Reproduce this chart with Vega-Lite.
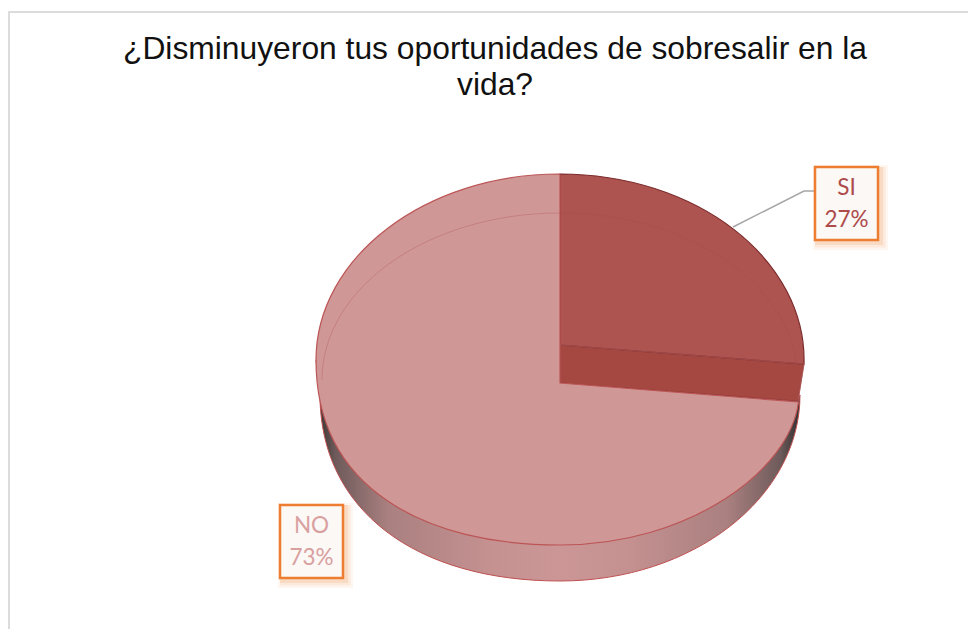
{
"$schema":"https://vega.github.io/schema/vega-lite/v6.json",
"width":968,"height":629,"padding":0,"autosize":{"type":"none"},
"background":"white",
"config":{"view":{"stroke":null}},
"title":{"text":["¿Disminuyeron tus oportunidades de sobresalir en la","vida?"],"font":"Liberation Sans","fontSize":31.8,"fontWeight":"normal","color":"#111111","anchor":"middle","frame":"group","baseline":"alphabetic","offset":0,"dx":11,"dy":127,"lineHeight":36},
"data":{"values":[{"respuesta":"NO","porcentaje":0.73},{"respuesta":"SI","porcentaje":0.27}]},
"layer":[
{"transform":[{"filter":"datum.respuesta === 'NO'"}],
 "mark":{"type":"point","filled":false,"size":4,"opacity":1,"shape":"M-475,314.5 L-475,-302.5 L484,-302.5","stroke":"#DCDCDC","strokeWidth":2,"fill":null},"encoding":{}},
{"transform":[{"filter":"datum.respuesta === 'NO'"}],
 "mark":{"type":"point","filled":true,"size":4,"opacity":1,"shape":"M-164,80.5 C-164,195.8 -68,266.5 76,266.5 A240,186 0 0 0 316,80.5 L314,86.5 L76,68.5 L-168,45.5 Z","stroke":"#C05050","strokeWidth":1,
 "fill":{"gradient":"linear","x1":0,"y1":0,"x2":1,"y2":0,"stops":[{"offset":0,"color":"#2e2e2e"},{"offset":0.04,"color":"#6e5a5a"},{"offset":0.15,"color":"#aa8080"},{"offset":0.35,"color":"#c49090"},{"offset":0.5,"color":"#cc9696"},{"offset":0.65,"color":"#c49090"},{"offset":0.85,"color":"#aa8080"},{"offset":0.96,"color":"#6e5a5a"},{"offset":1,"color":"#2e2e2e"}]}},"encoding":{}},
{"transform":[{"filter":"datum.respuesta === 'SI'"}],
 "mark":{"type":"point","filled":true,"size":4,"opacity":1,"shape":"M76,30.5 L320,49.5 L314,86.5 L76,68.5 Z","fill":"#A64842","stroke":"#8a3a36","strokeWidth":0.8},"encoding":{}},
{"mark":{"type":"point","filled":true,"size":4,"opacity":1,"strokeWidth":1.2},
 "encoding":{
  "shape":{"field":"respuesta","type":"nominal","legend":null,"scale":{"domain":["SI","NO"],"range":["M76,30.5 L76,-140.5 A244,186 0 0 1 320,49.5 Z","M76,68.5 L76,-140.5 A244,186 0 0 0 -168,45.5 C-168,175 -58,230.5 76,230.5 C206,230.5 306,155.5 314.5,87.5 Z"]}},
  "fill":{"field":"respuesta","type":"nominal","legend":null,"scale":{"domain":["SI","NO"],"range":["#AD5350","#D09797"]}},
  "stroke":{"field":"respuesta","type":"nominal","legend":null,"scale":{"domain":["SI","NO"],"range":["#7B2B2B","#BC5555"]}},
  "order":{"field":"respuesta","sort":"descending"}
 }},
{"transform":[{"filter":"datum.respuesta === 'SI'"}],
 "mark":{"type":"point","filled":false,"size":4,"opacity":1,"shape":"M76,30.5 L320,49.5 L314,86.5","stroke":"#B86060","strokeWidth":0.6,"fill":null},"encoding":{}},
{"transform":[{"filter":"datum.respuesta === 'NO'"}],
 "mark":{"type":"point","filled":false,"size":4,"opacity":0.3,"shape":"M-162,65.5 A238,167 0 0 1 76,-101.5 A238,167 0 0 1 314,65.5","stroke":"#A84848","strokeWidth":1,"fill":null},"encoding":{}},
{"transform":[{"filter":"datum.respuesta === 'SI'"}],
 "mark":{"type":"point","filled":false,"size":4,"opacity":1,"shape":"M249,-87.5 L320,-123.5 L331,-123.5","stroke":"#A6A6A6","strokeWidth":1.5,"fill":null},"encoding":{}},
{"mark":{"type":"point","filled":true,"size":4,"opacity":0.07,"fill":"#ED7D31","shape":"M-33.5,-38.5 H41.5 V46.5 H-33.5 Z"},
 "encoding":{"x":{"field":"respuesta","type":"nominal","axis":null,"scale":{"domain":["NO","SI"],"range":[311.5,846.5],"padding":0}},"y":{"field":"respuesta","type":"nominal","axis":null,"scale":{"domain":["NO","SI"],"range":[541.5,203.5],"padding":0}}}},
{"mark":{"type":"point","filled":true,"size":4,"opacity":0.1,"fill":"#ED7D31","shape":"M-31.5,-36.5 H39 V44 H-31.5 Z"},
 "encoding":{"x":{"field":"respuesta","type":"nominal","axis":null},"y":{"field":"respuesta","type":"nominal","axis":null}}},
{"mark":{"type":"point","filled":true,"size":4,"opacity":0.14,"fill":"#ED7D31","shape":"M-31.5,-36.5 H36.5 V41.5 H-31.5 Z"},
 "encoding":{"x":{"field":"respuesta","type":"nominal","axis":null},"y":{"field":"respuesta","type":"nominal","axis":null}}},
{"mark":{"type":"point","filled":true,"size":4,"opacity":1,"fill":"#FBF8F6","stroke":"#ED7D31","strokeWidth":2.5,"shape":"M-31.5,-36.5 H31.5 V36.5 H-31.5 Z"},
 "encoding":{"x":{"field":"respuesta","type":"nominal","axis":null},"y":{"field":"respuesta","type":"nominal","axis":null}}},
{"mark":{"type":"text","font":"Lato","fontSize":22.5,"baseline":"middle","align":"center","dy":-16},
 "encoding":{"x":{"field":"respuesta","type":"nominal","axis":null},"y":{"field":"respuesta","type":"nominal","axis":null},"text":{"field":"respuesta","type":"nominal"},
 "color":{"field":"respuesta","type":"nominal","legend":null,"scale":{"domain":["SI","NO"],"range":["#AD4B4B","#D9A0A0"]}}}},
{"mark":{"type":"text","font":"Lato","fontSize":22.5,"baseline":"middle","align":"center","dy":16},
 "encoding":{"x":{"field":"respuesta","type":"nominal","axis":null},"y":{"field":"respuesta","type":"nominal","axis":null},"text":{"field":"porcentaje","type":"quantitative","format":".0%"},
 "color":{"field":"respuesta","type":"nominal","legend":null,"scale":{"domain":["SI","NO"],"range":["#AD4B4B","#D9A0A0"]}}}}
],
"resolve":{"scale":{"color":"independent"}}
}
